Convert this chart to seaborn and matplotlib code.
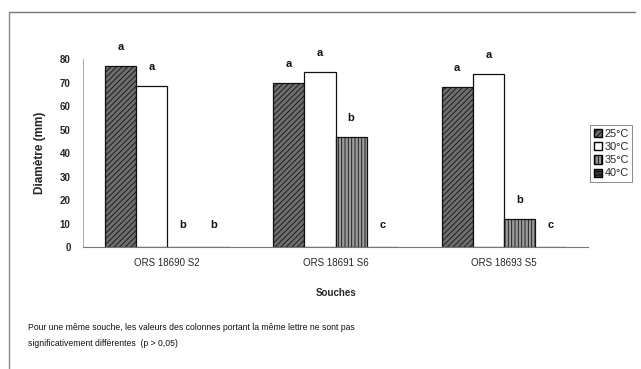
import matplotlib
matplotlib.use("Agg")
import matplotlib.pyplot as plt
import matplotlib.patches as mpatches
import seaborn as sns
import pandas as pd

sns.set_style("white")
plt.rcParams['font.family'] = ['Liberation Sans', 'DejaVu Sans']
plt.rcParams['hatch.linewidth'] = 0.6

# data
souches = ["ORS 18690 S2", "ORS 18691 S6", "ORS 18693 S5"]
temperatures = ["25°C", "30°C", "35°C", "40°C"]
d25 = [77, 70, 68]
d30 = [68.5, 74.5, 73.5]
d35 = [0, 47, 12]
d40 = [0, 0, 0]
lettres = {
    "25°C": ["a", "a", "a"],
    "30°C": ["a", "a", "a"],
    "35°C": ["b", "b", "b"],
    "40°C": ["b", "c", "c"],
}

rows = []
for t, vals in zip(temperatures, [d25, d30, d35, d40]):
    for s, v in zip(souches, vals):
        rows.append({"Souches": s, "Temp": t, "Diametre": v})
df = pd.DataFrame(rows)

# bar styles (scanned b/w fills)
faces = ["#6e6e6e", "white", "#9a9a9a", "#3c3c3c"]
hatches = ["//////", "", "|||||", "-----"]

fig = plt.figure(figsize=(6.41, 3.69), dpi=100)
ax = fig.add_axes([0.1295, 0.3306, 0.7880, 0.5095])

sns.barplot(data=df, x="Souches", y="Diametre", hue="Temp", order=souches,
            hue_order=temperatures, width=0.74, ax=ax, legend=False,
            edgecolor="black", linewidth=0.9)

for cont, fc, h, t in zip(ax.containers, faces, hatches, temperatures):
    for bar, lab in zip(cont, lettres[t]):
        bar.set_facecolor(fc)
        bar.set_hatch(h)
        bar.set_edgecolor("#111111")
        hgt = bar.get_height()
        y = hgt + 8 if hgt > 0 else 9.5
        ax.text(bar.get_x() + bar.get_width() / 2, y, lab, ha="center", va="center",
                fontsize=8, fontweight="bold", color="#111111")

ax.set_xlim(-0.5, 2.5)
ax.set_ylim(0, 80)
ax.set_yticks(range(0, 81, 10))
ax.tick_params(axis="y", labelsize=7, length=3, width=0.6, color="#888888", pad=6)
ax.tick_params(axis="x", labelsize=7, length=0, pad=8)
for lbl in ax.get_yticklabels():
    lbl.set_fontweight("bold")
ax.set_ylabel("Diamètre (mm)", fontsize=8.5, fontweight="bold", labelpad=10)
ax.set_xlabel("Souches", fontsize=7, fontweight="bold", labelpad=14)

for side in ["top", "right"]:
    ax.spines[side].set_visible(False)
ax.spines["left"].set_color("#9a9a9a")
ax.spines["left"].set_linewidth(0.6)
ax.spines["bottom"].set_color("#777777")
ax.spines["bottom"].set_linewidth(0.8)

handles = [mpatches.Patch(facecolor=fc, hatch=h, edgecolor="black", label=t)
           for fc, h, t in zip(faces, hatches, temperatures)]
leg = fig.legend(handles=handles, loc="upper left", bbox_to_anchor=(0.921, 0.66),
                 fontsize=7.8, handlelength=0.8, handleheight=0.8, handletextpad=0.2,
                 borderpad=0.3, labelspacing=0.3, frameon=True, fancybox=False,
                 borderaxespad=0)
leg.get_frame().set_edgecolor("#555555")
leg.get_frame().set_linewidth(0.6)

# footnote
fig.text(0.044, 0.113, "Pour une même souche, les valeurs des colonnes portant la même lettre ne sont pas",
         fontsize=6.2, color="#111111", va="center")
fig.text(0.044, 0.070, "significativement différentes  (p > 0,05)",
         fontsize=6.2, color="#111111", va="center")

# frame lines of the scanned figure
fig.add_artist(plt.Line2D([0.014, 0.99], [0.967, 0.967], color="#777777", lw=1.0))
fig.add_artist(plt.Line2D([0.014, 0.014], [0.0, 0.967], color="#888888", lw=1.0))

fig.savefig("out.png", dpi=100)
